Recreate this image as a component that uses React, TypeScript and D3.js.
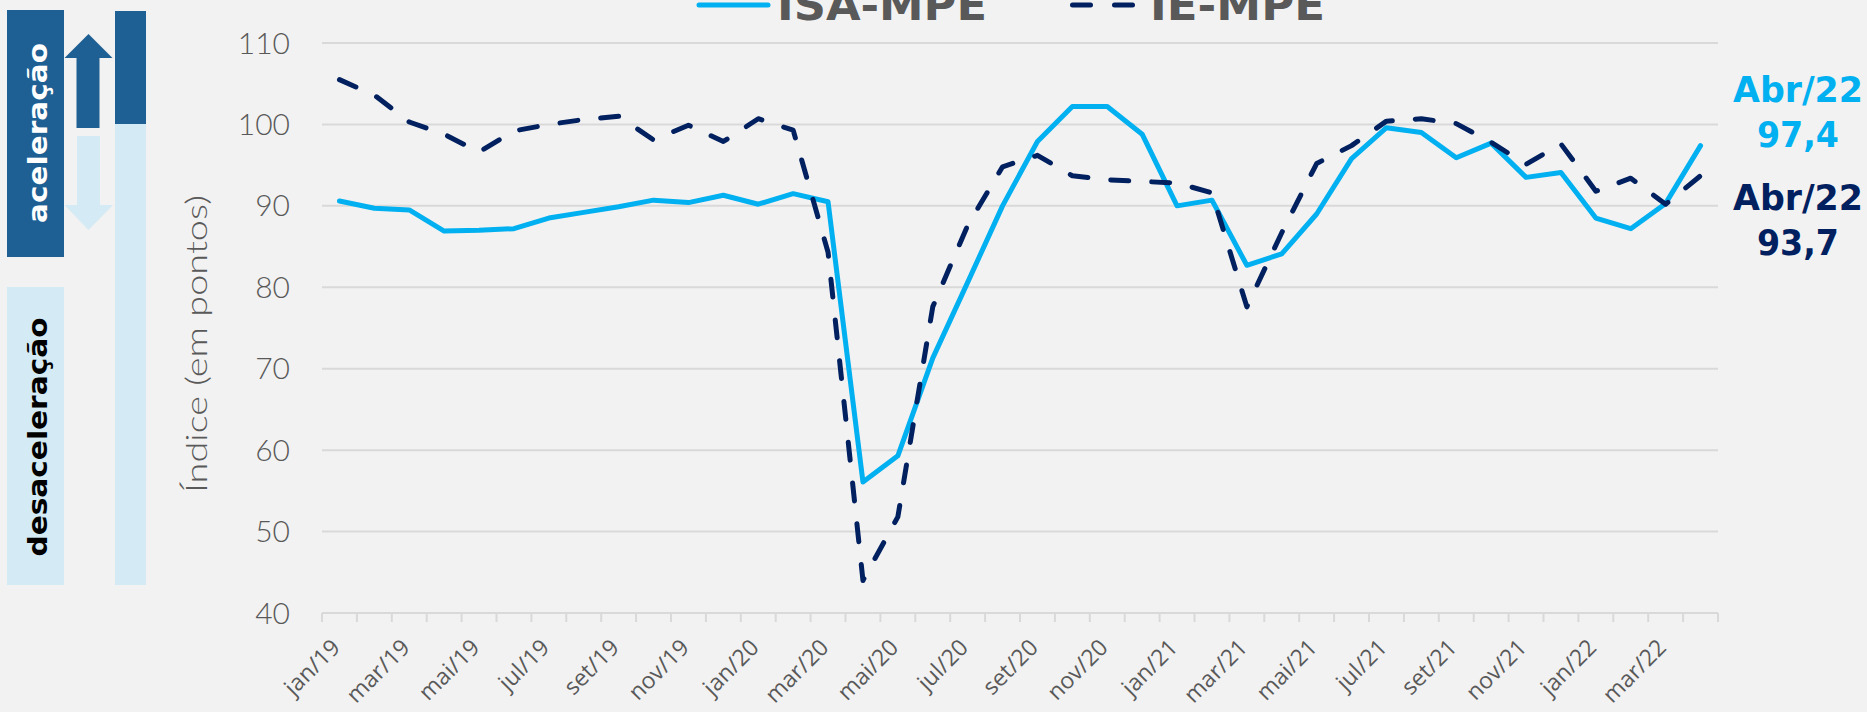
import React from "react";
import * as d3 from "d3";

const months: string[] = [
  "jan/19","fev/19","mar/19","abr/19","mai/19","jun/19","jul/19","ago/19","set/19","out/19","nov/19","dez/19",
  "jan/20","fev/20","mar/20","abr/20","mai/20","jun/20","jul/20","ago/20","set/20","out/20","nov/20","dez/20",
  "jan/21","fev/21","mar/21","abr/21","mai/21","jun/21","jul/21","ago/21","set/21","out/21","nov/21","dez/21",
  "jan/22","fev/22","mar/22","abr/22",
];

const isaMpe: number[] = [
  90.6, 89.7, 89.5, 86.9, 87.0, 87.2, 88.5, 89.2, 89.9, 90.7, 90.4, 91.3,
  90.2, 91.5, 90.5, 56.1, 59.3, 71.3, 80.6, 90.0, 97.9, 102.2, 102.2, 98.8,
  90.0, 90.7, 82.7, 84.1, 89.0, 95.8, 99.6, 99.0, 95.9, 97.7, 93.5, 94.1,
  88.5, 87.2, 90.3, 97.4,
];

const ieMpe: number[] = [
  105.5, 103.6, 100.3, 98.8, 96.6, 99.2, 100.0, 100.6, 101.0, 98.1, 99.9, 97.9,
  100.7, 99.3, 84.3, 44.0, 51.8, 77.6, 87.6, 94.8, 96.2, 93.7, 93.2, 93.0,
  92.8, 91.6, 77.6, 86.7, 95.2, 97.4, 100.4, 100.7, 100.1, 97.8, 95.1, 97.6,
  91.8, 93.4, 90.2, 93.7,
];

const yTicks: number[] = [40, 50, 60, 70, 80, 90, 100, 110];
const seriesNames: string[] = ["ISA-MPE", "IE-MPE"];
const lastLabels: string[] = ["Abr/22", "97,4", "Abr/22", "93,7"];

const W = 1867;
const H = 712;
const CYAN = "#00B0F0";
const NAVY = "#002060";
const GRAY = "#595959";
const GRID = "#D9D9D9";
const DARKBLUE = "#1F6094";
const LIGHTBLUE = "#D4EAF4";
const BOLD = "'DejaVu Sans', sans-serif";
const LIGHT = "Lato, 'Open Sans', sans-serif";

export default function App() {
  const x = d3.scaleBand<string>().domain(months).range([322, 1718]).padding(0);
  const y = d3.scaleLinear().domain([40, 110]).range([613, 43]);
  const cx = (m: string) => (x(m) as number) + x.bandwidth() / 2;

  const line = d3
    .line<number>()
    .x((_, i) => cx(months[i]))
    .y((d) => y(d));

  const boundaries = d3.range(months.length + 1).map((i) => 322 + i * x.bandwidth());

  return (
    <>
      <style>{`body{margin:0;background:#F2F2F2;} #root{line-height:0}`}</style>
      <svg width={W} height={H} style={{ display: "block", background: "#F2F2F2" }}>
        <rect x={0} y={0} width={W} height={H} fill="#F2F2F2" />

        {/* left decoration */}
        <rect x={7} y={10} width={57} height={247} fill={DARKBLUE} />
        <rect x={7} y={287} width={57} height={298} fill={LIGHTBLUE} />
        <rect x={115} y={11} width={31} height={113} fill={DARKBLUE} />
        <rect x={115} y={124} width={31} height={461} fill={LIGHTBLUE} />
        <polygon
          points="88.5,34 64.5,58 76.5,58 76.5,128 99.5,128 99.5,58 112.5,58"
          fill={DARKBLUE}
        />
        <polygon
          points="77,136 100,136 100,205 113,205 88.5,230 64.5,205 77,205"
          fill={LIGHTBLUE}
        />
        <text
          transform="translate(47,133) rotate(-90)"
          textAnchor="middle"
          fontFamily={BOLD}
          fontWeight={700}
          fontSize={26}
          fill="#FFFFFF"
          textLength={180}
          lengthAdjust="spacingAndGlyphs"
        >
          aceleração
        </text>
        <text
          transform="translate(47,437) rotate(-90)"
          textAnchor="middle"
          fontFamily={BOLD}
          fontWeight={700}
          fontSize={26}
          fill="#000000"
          textLength={239}
          lengthAdjust="spacingAndGlyphs"
        >
          desaceleração
        </text>

        {/* y title */}
        <text
          transform="translate(207,344) rotate(-90)"
          textAnchor="middle"
          fontFamily={LIGHT}
          fontWeight={300}
          fontSize={30}
          fill={GRAY}
          textLength={298}
          lengthAdjust="spacingAndGlyphs"
        >
          Índice (em pontos)
        </text>

        {/* gridlines */}
        {yTicks.map((t) => (
          <line key={t} x1={322} x2={1718} y1={y(t)} y2={y(t)} stroke={GRID} strokeWidth={2} />
        ))}
        {yTicks.map((t) => (
          <text
            key={"l" + t}
            x={290}
            y={y(t)}
            dy="0.35em"
            textAnchor="end"
            fontFamily={LIGHT}
            fontWeight={300}
            fontSize={30}
            fill={GRAY}
          >
            {t}
          </text>
        ))}

        {/* x ticks */}
        {boundaries.map((bx, i) => (
          <line key={"t" + i} x1={bx} x2={bx} y1={y(40)} y2={y(40) + 9} stroke={GRID} strokeWidth={2} />
        ))}
        {months.map((m, i) =>
          i % 2 === 0 ? (
            <text
              key={"x" + m}
              transform={`translate(${cx(m) + 2},${649}) rotate(-45)`}
              textAnchor="end"
              fontFamily="'Open Sans', sans-serif"
              fontSize={23}
              fill={GRAY}
            >
              {m}
            </text>
          ) : null
        )}

        {/* series */}
        <path
          d={line(isaMpe) || ""}
          fill="none"
          stroke={CYAN}
          strokeWidth={5}
          strokeLinejoin="round"
          strokeLinecap="round"
        />
        <path
          d={line(ieMpe) || ""}
          fill="none"
          stroke={NAVY}
          strokeWidth={5}
          strokeDasharray="18,23"
          strokeLinejoin="round"
          strokeLinecap="round"
        />

        {/* legend */}
        <line x1={699} x2={768} y1={5} y2={5} stroke={CYAN} strokeWidth={5} strokeLinecap="round" />
        <text
          x={777}
          y={20}
          fontFamily={BOLD}
          fontWeight={700}
          fontSize={42}
          fill={GRAY}
          textLength={210}
          lengthAdjust="spacingAndGlyphs"
        >
          {seriesNames[0]}
        </text>
        <line
          x1={1072.5}
          x2={1132.5}
          y1={5}
          y2={5}
          stroke={NAVY}
          strokeWidth={5}
          strokeLinecap="round"
          strokeDasharray="18,24"
        />
        <text
          x={1150}
          y={20}
          fontFamily={BOLD}
          fontWeight={700}
          fontSize={42}
          fill={GRAY}
          textLength={175}
          lengthAdjust="spacingAndGlyphs"
        >
          {seriesNames[1]}
        </text>

        {/* last value labels */}
        {lastLabels.map((t, i) => (
          <text
            key={"ll" + i}
            x={1798}
            y={[102, 147, 210, 255][i]}
            textAnchor="middle"
            fontFamily={BOLD}
            fontWeight={700}
            fontSize={36}
            fill={i < 2 ? CYAN : NAVY}
            textLength={i % 2 === 0 ? 130 : 82}
            lengthAdjust="spacingAndGlyphs"
          >
            {t}
          </text>
        ))}
      </svg>
    </>
  );
}
